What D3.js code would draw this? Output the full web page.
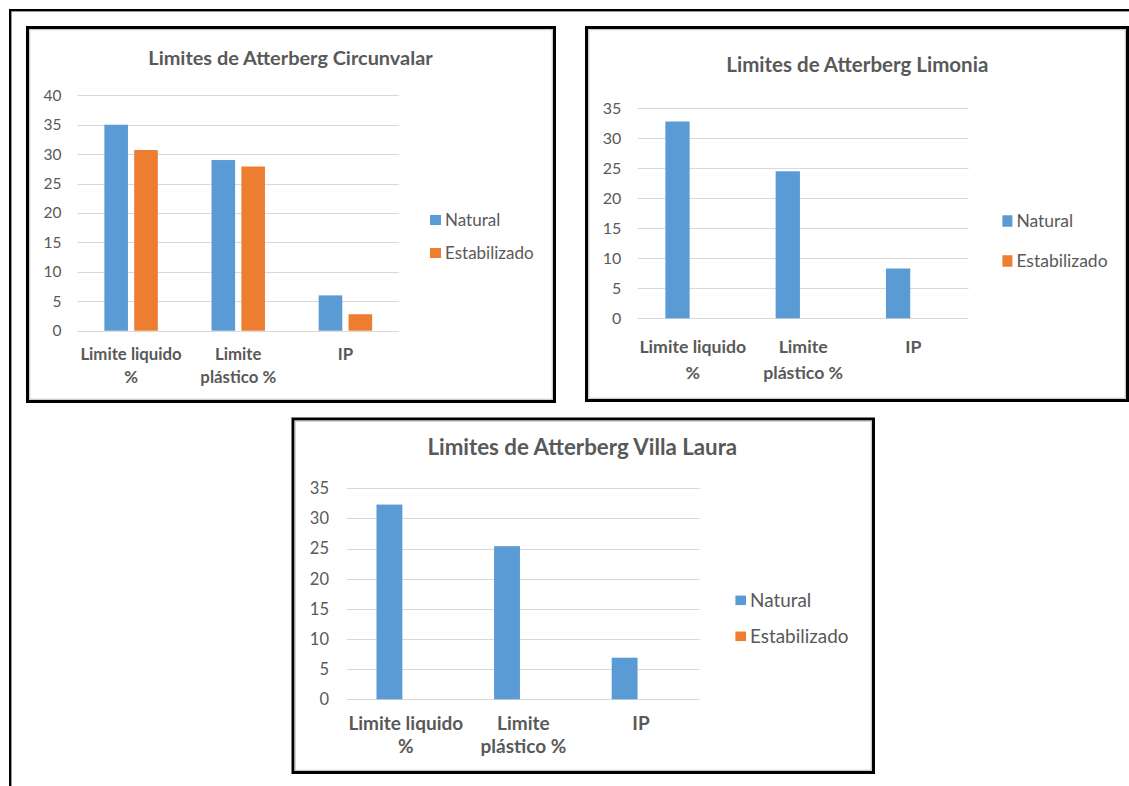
<!DOCTYPE html>
<html>
<head>
<meta charset="utf-8">
<script src="https://cdn.jsdelivr.net/npm/d3@7"></script>
<style>
  html, body { margin: 0; padding: 0; background: #ffffff; }
  svg { display: block; }
  text { font-family: Lato, "Open Sans", sans-serif; fill: #595959; }
</style>
</head>
<body>
<svg id="page" width="1129" height="786"></svg>
<script>
// Atterberg limits per site (%)
const categories = ["Limite liquido %", "Limite plástico %", "IP"];
const categoryLines = [["Limite liquido", "%"], ["Limite", "plástico %"], ["IP"]];
const seriesNames = ["Natural", "Estabilizado"];
const seriesColors = ["#5B9BD5", "#ED7D31"];

const circunvalarNatural = [35, 29, 6];
const circunvalarEstabilizado = [30.7, 27.9, 2.8];
const circunvalarTicks = [0, 5, 10, 15, 20, 25, 30, 35, 40];

const limoniaNatural = [32.8, 24.5, 8.3];
const limoniaEstabilizado = [null, null, null];
const limoniaTicks = [0, 5, 10, 15, 20, 25, 30, 35];

const villaLauraNatural = [32.3, 25.4, 6.9];
const villaLauraEstabilizado = [null, null, null];
const villaLauraTicks = [0, 5, 10, 15, 20, 25, 30, 35];

const svg = d3.select("#page");

// outer frame around the three panels
svg.append("rect")
  .attr("x", 10.2).attr("y", 10.2)
  .attr("width", 1140).attr("height", 800)
  .attr("fill", "none").attr("stroke", "#000").attr("stroke-width", 2.4);

function drawChart(cfg) {
  const g = svg.append("g");

  // panel border: black outline with light inner edge
  g.append("rect")
    .attr("x", cfg.box[0] + 1.5).attr("y", cfg.box[1] + 1.5)
    .attr("width", cfg.box[2] - cfg.box[0] - 3).attr("height", cfg.box[3] - cfg.box[1] - 3)
    .attr("fill", "#fff").attr("stroke", "#000").attr("stroke-width", 3);
  g.append("rect")
    .attr("x", cfg.box[0] + 3.7).attr("y", cfg.box[1] + 3.7)
    .attr("width", cfg.box[2] - cfg.box[0] - 7.4).attr("height", cfg.box[3] - cfg.box[1] - 7.4)
    .attr("fill", "none").attr("stroke", "#c8c8c8").attr("stroke-width", 1.2);

  // title
  g.append("text")
    .attr("x", cfg.titleX).attr("y", cfg.titleY)
    .attr("text-anchor", "middle")
    .attr("font-weight", "bold")
    .attr("font-size", cfg.titleSize)
    .text(cfg.title);

  const [left, right, top, bottom] = cfg.plot;
  const yMax = cfg.ticks[cfg.ticks.length - 1];
  const y = d3.scaleLinear().domain([0, yMax]).range([bottom, top]);
  const x0 = d3.scaleBand().domain(categories).range([left, right]).padding(0);
  const x1 = d3.scaleBand().domain(seriesNames).range([0, x0.bandwidth()])
    .paddingInner(0.21).paddingOuter(0.9);

  // horizontal gridlines
  g.append("g").selectAll("line").data(cfg.ticks).join("line")
    .attr("x1", left).attr("x2", right)
    .attr("y1", d => Math.round(y(d)) + 0.5).attr("y2", d => Math.round(y(d)) + 0.5)
    .attr("stroke", "#d9d9d9").attr("stroke-width", 1);

  // value axis labels
  const yAxis = d3.axisLeft(y).tickValues(cfg.ticks).tickSize(0).tickPadding(cfg.tickPad);
  const ya = g.append("g").attr("transform", `translate(${left},0)`).call(yAxis);
  ya.select(".domain").remove();
  ya.selectAll("text")
    .attr("font-size", cfg.tickSize)
    .attr("font-family", "Lato, sans-serif")
    .attr("fill", "#595959");

  // bars
  const series = [cfg.natural, cfg.estabilizado];
  const rows = [];
  series.forEach((vals, si) => vals.forEach((v, ci) => {
    if (v != null) rows.push({ cat: categories[ci], s: seriesNames[si], v, color: seriesColors[si] });
  }));
  g.append("g").selectAll("rect").data(rows).join("rect")
    .attr("x", d => x0(d.cat) + x1(d.s))
    .attr("width", x1.bandwidth())
    .attr("y", d => y(d.v))
    .attr("height", d => y(0) - y(d.v))
    .attr("fill", d => d.color);

  // category labels (wrapped)
  const cl = g.append("g").selectAll("text").data(categories).join("text")
    .attr("text-anchor", "middle")
    .attr("font-weight", "bold")
    .attr("font-size", cfg.catSize)
    .attr("x", d => x0(d) + x0.bandwidth() / 2)
    .attr("y", bottom + cfg.catOffset);
  cl.each(function (d, i) {
    const t = d3.select(this);
    categoryLines[i].forEach((line, li) => {
      t.append("tspan")
        .attr("x", x0(d) + x0.bandwidth() / 2)
        .attr("dy", li === 0 ? 0 : cfg.catLine)
        .text(line);
    });
  });

  // legend
  const lg = g.append("g").selectAll("g").data(seriesNames).join("g")
    .attr("transform", (d, i) => `translate(${cfg.legend[0]},${cfg.legend[1] + i * cfg.legend[2]})`);
  lg.append("rect")
    .attr("x", 0).attr("y", -cfg.swatch[1] / 2)
    .attr("width", cfg.swatch[0]).attr("height", cfg.swatch[1])
    .attr("fill", (d, i) => seriesColors[i]);
  lg.append("text")
    .attr("x", cfg.swatch[0] + 4)
    .attr("y", 0)
    .attr("dy", "0.36em")
    .attr("font-size", cfg.legendSize)
    .text(d => d);
}

drawChart({
  title: "Limites de Atterberg Circunvalar",
  natural: circunvalarNatural, estabilizado: circunvalarEstabilizado, ticks: circunvalarTicks,
  box: [26, 26, 556, 403],
  titleX: 290.5, titleY: 65, titleSize: 19.9,
  plot: [77.5, 399, 95.3, 330.7],
  tickPad: 16, tickSize: 15.5,
  catSize: 16.8, catOffset: 29.5, catLine: 23,
  legend: [430, 220, 33], swatch: [11, 10], legendSize: 17
});

drawChart({
  title: "Limites de Atterberg Limonia",
  natural: limoniaNatural, estabilizado: limoniaEstabilizado, ticks: limoniaTicks,
  box: [585, 26, 1129, 402],
  titleX: 857.3, titleY: 72, titleSize: 20.5,
  plot: [637.7, 968.6, 108.3, 318.3],
  tickPad: 16.5, tickSize: 16,
  catSize: 17.7, catOffset: 34.5, catLine: 26,
  legend: [1002.4, 221, 40], swatch: [10, 11.5], legendSize: 17.5
});

drawChart({
  title: "Limites de Atterberg Villa Laura",
  natural: villaLauraNatural, estabilizado: villaLauraEstabilizado, ticks: villaLauraTicks,
  box: [291.5, 417.5, 875, 774],
  titleX: 582.3, titleY: 455, titleSize: 22.3,
  plot: [347, 699.8, 488.3, 699.3],
  tickPad: 18, tickSize: 16.5,
  catSize: 19, catOffset: 30.5, catLine: 23.5,
  legend: [735.4, 600.3, 36], swatch: [10.6, 9.5], legendSize: 18.9
});
</script>
</body>
</html>
